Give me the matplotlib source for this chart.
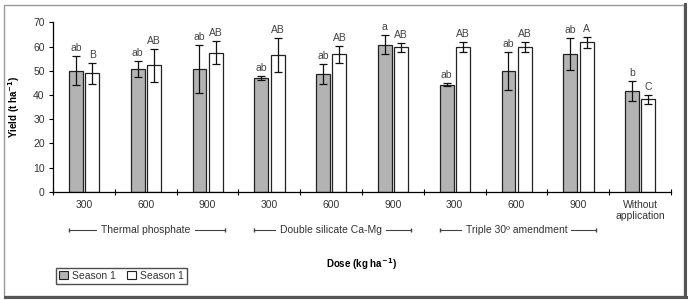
import numpy as np
import matplotlib.pyplot as plt
from matplotlib.patches import Rectangle, Patch
from matplotlib.lines import Line2D

plt.rcParams['font.family'] = ['Liberation Sans Narrow', 'Liberation Sans', 'DejaVu Sans']

# data
doses = ['300', '600', '900', '300', '600', '900', '300', '600', '900', 'Without\napplication']
groups = ['Thermal phosphate', 'Double silicate Ca-Mg', 'Triple 30º amendment']
s1 = [50.0, 50.7, 50.7, 47.1, 48.6, 60.8, 44.2, 50.0, 56.9, 41.6]
s1_err = [6.1, 3.4, 9.9, 0.8, 4.2, 3.9, 0.7, 7.8, 6.5, 4.1]
s2 = [48.9, 52.2, 57.5, 56.5, 56.8, 59.7, 59.9, 59.9, 61.7, 38.2]
s2_err = [4.3, 6.8, 4.8, 7.0, 3.6, 1.8, 2.0, 2.1, 2.4, 1.9]
s1_letters = ['ab', 'ab', 'ab', 'ab', 'ab', 'a', 'ab', 'ab', 'ab', 'b']
s2_letters = ['B', 'AB', 'AB', 'AB', 'AB', 'AB', 'AB', 'AB', 'A', 'C']

txt = '#333333'
fs = 7.5
fig = plt.figure(figsize=(6.89, 3.0), dpi=100)
ax = fig.add_axes([53/689, 1 - 191.7/300, (671-53)/689, 169.4/300])

x = np.arange(len(doses))
w = 0.225
ax.bar(x - 0.13, s1, w, color='#b3b3b3', edgecolor='#222222', linewidth=0.9)
ax.bar(x + 0.135, s2, w, color='white', edgecolor='#222222', linewidth=0.9)
ax.errorbar(x - 0.13, s1, yerr=s1_err, fmt='none', ecolor='#111111', elinewidth=0.9, capsize=2.8, capthick=0.9)
ax.errorbar(x + 0.135, s2, yerr=s2_err, fmt='none', ecolor='#111111', elinewidth=0.9, capsize=2.8, capthick=0.9)

for i in range(len(x)):
    ax.annotate(s1_letters[i], (x[i] - 0.13, s1[i] + s1_err[i]), xytext=(0, 2),
                textcoords='offset points', ha='center', va='bottom', fontsize=fs, color='#444444')
    ax.annotate(s2_letters[i], (x[i] + 0.135, s2[i] + s2_err[i]), xytext=(0, 2),
                textcoords='offset points', ha='center', va='bottom', fontsize=fs, color='#444444')

ax.set_xlim(-0.5, 9.5)
ax.set_ylim(0, 70)
ax.set_yticks(np.arange(0, 71, 10))
ax.set_xticks(np.arange(-0.5, 9.6, 1))
ax.set_xticklabels([])
ax.set_xticks(x, minor=True)
ax.set_xticklabels(doses, minor=True, fontsize=fs, color=txt, linespacing=1.15)
ax.tick_params(axis='x', which='minor', length=0, pad=6)
ax.tick_params(axis='x', which='major', direction='inout', length=4, width=0.8)
ax.tick_params(axis='y', direction='out', length=3, width=0.8, labelsize=fs, labelcolor=txt, pad=3)
for s in ['top', 'right']:
    ax.spines[s].set_visible(False)
ax.spines['left'].set_linewidth(0.9)
ax.spines['bottom'].set_linewidth(0.9)

ax.set_ylabel(r'Yield (t ha$^{\mathbf{-1}}$)', fontsize=7, fontweight='bold', labelpad=8)
ax.set_xlabel(r'Dose (kg ha$^{\mathbf{-1}}$)', fontsize=7, fontweight='bold', labelpad=0)
ax.xaxis.set_label_coords(0.5, -0.38)

# group brackets under the dose labels
tr = ax.get_xaxis_transform()
for k, name in enumerate(groups):
    c = 3 * k + 1
    ax.plot([c - 1.24, c + 1.29], [-0.226, -0.226], transform=tr, clip_on=False,
            color='#444444', lw=0.8, marker='|', markersize=3)
    ax.text(c, -0.226, name, transform=tr, ha='center', va='center', fontsize=fs, color=txt,
            bbox=dict(facecolor='white', edgecolor='none', pad=3))

handles = [Patch(facecolor='#b3b3b3', edgecolor='#222222', linewidth=0.8),
           Patch(facecolor='white', edgecolor='#222222', linewidth=0.8)]
fig.legend(handles, ['Season 1', 'Season 1'], ncol=2, loc='lower left',
           bbox_to_anchor=(51/689, 1 - 289/300), fontsize=fs, frameon=True, fancybox=False,
           edgecolor='#222222', handlelength=0.8, handleheight=0.8, handletextpad=0.4,
           columnspacing=1.1, borderpad=0.3, labelcolor=txt)

# outer frame with shadow
fig.patches.append(Rectangle((4/689, 4/300), 680/689, 291/300, transform=fig.transFigure,
                             fill=False, edgecolor='#999999', lw=1.0))
fig.lines.append(Line2D([685/689, 685/689], [3/300, 296/300], transform=fig.transFigure, color='#555555', lw=2.2))
fig.lines.append(Line2D([5/689, 686/689], [3/300, 3/300], transform=fig.transFigure, color='#555555', lw=2.2))

fig.savefig('out.png', dpi=100)
